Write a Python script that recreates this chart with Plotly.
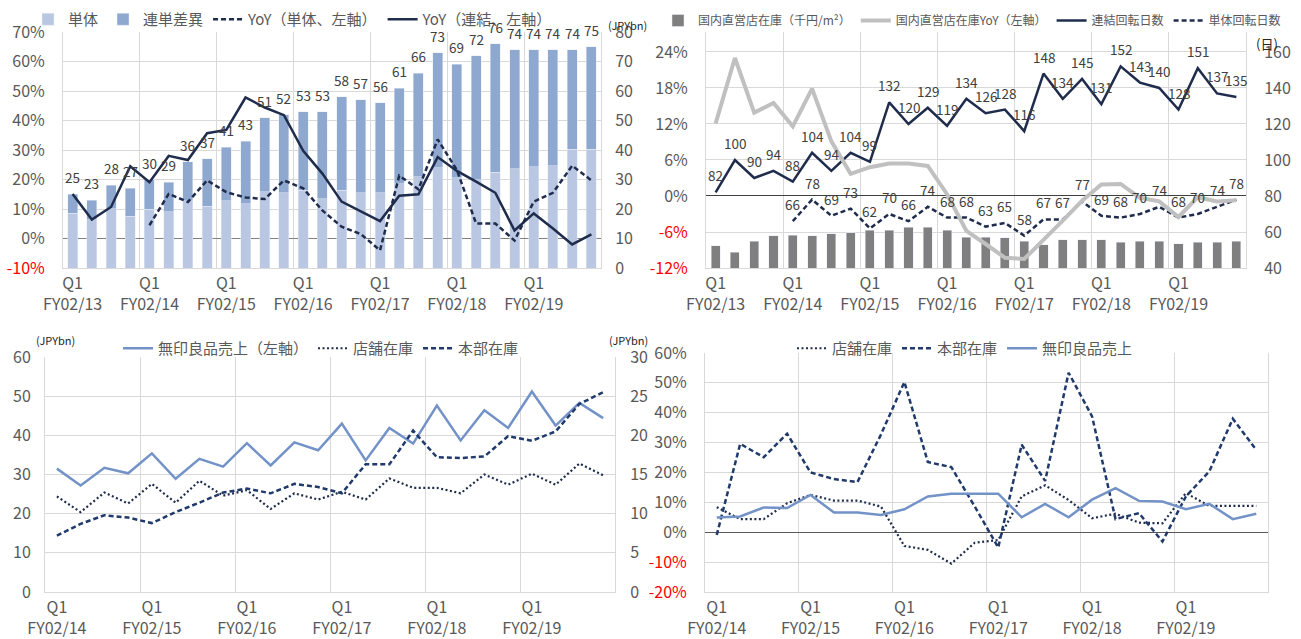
import plotly.graph_objects as go

W, H = 1301, 639

# ---------------- data ----------------
tick_text_a = ["Q1<br>FY02/13", "Q1<br>FY02/14", "Q1<br>FY02/15", "Q1<br>FY02/16",
               "Q1<br>FY02/17", "Q1<br>FY02/18", "Q1<br>FY02/19"]
tick_text_b = ["Q1<br>FY02/14", "Q1<br>FY02/15", "Q1<br>FY02/16",
               "Q1<br>FY02/17", "Q1<br>FY02/18", "Q1<br>FY02/19"]

# top-left: inventory (JPYbn) and YoY (%)
sales_total = [25, 23, 28, 27, 30, 29, 36, 37, 41, 43, 51, 52, 53, 53,
               58, 57, 56, 61, 66, 73, 69, 72, 76, 74, 74, 74, 74, 75]
sales_single = [18.6, 16.4, 20.1, 17.5, 20.0, 19.1, 22.8, 20.9, 22.8, 21.7, 25.9, 25.5, 26.4, 23.5,
                26.4, 25.5, 25.5, 28.5, 31.0, 34.0, 30.6, 30.0, 32.5, 33.6, 34.4, 34.6, 40.2, 40.2]
sales_gap = [round(t - s, 1) for t, s in zip(sales_total, sales_single)]
yoy_single = [None, None, None, None, 4.5, 15.1, 12.4, 19.7, 15.7, 13.9, 13.4, 19.7, 17.0, 9.5,
              4.0, 1.5, -4.0, 21.3, 16.7, 33.6, 23.2, 5.1, 5.1, -0.7, 12.5, 15.5, 24.7, 19.7]
yoy_consol = [15.1, 6.4, 10.7, 24.5, 19.1, 28.0, 26.6, 35.7, 36.8, 47.8, 44.4, 41.8, 29.7, 22.0,
              12.5, 9.2, 5.9, 14.5, 15.0, 27.6, 22.9, 19.3, 15.5, 2.7, 8.5, 3.4, -2.0, 1.4]

# top-right: store inventory per m2, YoY, turnover days
inv_per_m2 = [52.3, 48.8, 54.8, 57.8, 58.3, 57.8, 58.9, 59.6, 61.1, 61.1, 62.7, 62.7, 61.1, 57.2,
              57.2, 56.7, 54.8, 53.0, 55.6, 55.6, 55.6, 54.3, 54.8, 54.8, 53.6, 54.3, 54.3, 54.8]
inv_yoy = [12.1, 23.0, 13.9, 15.5, 11.6, 17.9, 9.1, 3.7, 4.8, 5.4, 5.4, 5.0, 0.3, -5.8,
           -8.0, -10.3, -10.5, -7.4, -4.1, -0.8, 1.9, 2.0, -0.3, -0.9, -3.5, -0.2, -0.9, -0.7]
days_consol = [82, 100, 90, 94, 88, 104, 94, 104, 99, 132, 120, 129, 119, 134,
               126, 128, 116, 148, 134, 145, 131, 152, 143, 140, 128, 151, 137, 135]
days_single = [None, None, None, None, 66, 78, 69, 73, 62, 70, 66, 74, 68, 68,
               63, 65, 58, 67, 67, 77, 69, 68, 70, 74, 68, 70, 74, 78]

# bottom-left: sales (left) and inventories (right), JPYbn
muji_sales = [31.5, 27.2, 31.7, 30.3, 35.4, 28.9, 34.0, 32.0, 38.0, 32.3, 38.2, 36.2,
              43.0, 33.6, 41.9, 37.9, 47.6, 38.7, 46.4, 41.9, 51.2, 42.5, 48.3, 44.4]
store_inv = [12.2, 10.2, 12.7, 11.3, 13.8, 11.4, 14.2, 12.3, 13.0, 10.6, 12.6, 11.8,
             12.8, 11.8, 14.5, 13.3, 13.3, 12.6, 15.0, 13.7, 15.1, 13.7, 16.4, 14.9]
hq_inv = [7.2, 8.7, 9.8, 9.5, 8.8, 10.2, 11.4, 12.7, 13.2, 12.6, 13.8, 13.4,
          12.6, 16.3, 16.3, 20.6, 17.2, 17.1, 17.3, 19.9, 19.3, 20.5, 24.0, 25.5]

# bottom-right: YoY (%)
store_inv_yoy = [8.4, 4.4, 4.4, 9.7, 12.5, 10.6, 10.6, 8.6, -4.6, -5.9, -10.5, -3.5,
                 -2.6, 12.0, 15.7, 10.8, 4.7, 6.2, 3.2, 3.0, 13.1, 8.8, 8.8, 8.8]
hq_inv_yoy = [-0.9, 29.6, 25.1, 33.0, 20.0, 17.8, 16.8, 32.7, 50.3, 23.5, 21.8, 8.6,
              -5.1, 29.3, 17.2, 53.4, 38.8, 4.4, 6.4, -3.1, 12.0, 20.4, 38.0, 27.6]
muji_sales_yoy = [4.9, 5.3, 8.3, 8.1, 12.5, 6.6, 6.6, 5.8, 7.7, 12.0, 12.9, 12.9,
                  12.9, 5.0, 9.5, 5.0, 10.9, 14.8, 10.5, 10.3, 7.7, 9.5, 4.4, 6.2]

xa = list(range(len(sales_total)))
xb = list(range(len(muji_sales)))

# ---------------- styling ----------------
FONT = "Noto Sans CJK JP, Noto Sans, sans-serif"
GRID = "#d9d9d9"
TICK = "#595959"
NAVY = "#1f2c4c"
NAVY2 = "#203a6b"
LBLUE = "#7393c8"
RED = "#ff0000"
DASH = "5px,3px"
DOT = "2px,2.5px"


def px(p):
    return p / W


def py(p):
    return 1 - p / H


def pct_labels(vals):
    out = []
    for v in vals:
        t = f"{v}%"
        out.append(f'<span style="color:{RED}">{t}</span>' if v < 0 else t)
    return out


fig = go.Figure()

# ---- top-left ----
fig.add_trace(go.Bar(x=xa, y=sales_single, name="単体", marker_color="#b9c7e2",
                     width=0.52, xaxis="x", yaxis="y", legend="legend"))
fig.add_trace(go.Bar(x=xa, y=sales_gap, name="連単差異", marker_color="#8fa8d0",
                     width=0.52, xaxis="x", yaxis="y", legend="legend"))
fig.add_trace(go.Scatter(x=xa, y=yoy_single, name="YoY（単体、左軸）", mode="lines",
                         line=dict(color=NAVY, width=2.5, dash=DASH),
                         xaxis="x", yaxis="y2", legend="legend"))
fig.add_trace(go.Scatter(x=xa, y=yoy_consol, name="YoY（連結、左軸）", mode="lines",
                         line=dict(color=NAVY, width=2.5),
                         xaxis="x", yaxis="y2", legend="legend"))

# ---- top-right ----
fig.add_trace(go.Bar(x=xa, y=inv_per_m2, name="国内直営店在庫（千円/m²）", marker_color="#7f7f7f",
                     width=0.47, xaxis="x2", yaxis="y3", legend="legend2", legendrank=1))
fig.add_trace(go.Scatter(x=xa, y=days_consol, name="連結回転日数", mode="lines",
                         line=dict(color=NAVY, width=2.5),
                         xaxis="x2", yaxis="y3", legend="legend2", legendrank=3))
fig.add_trace(go.Scatter(x=xa, y=days_single, name="単体回転日数", mode="lines",
                         line=dict(color=NAVY, width=2.5, dash=DASH),
                         xaxis="x2", yaxis="y3", legend="legend2", legendrank=4))
fig.add_trace(go.Scatter(x=xa, y=inv_yoy, name="国内直営店在庫YoY（左軸）", mode="lines",
                         line=dict(color="#c0c0c0", width=4),
                         xaxis="x2", yaxis="y4", legend="legend2", legendrank=2))

# ---- bottom-left ----
fig.add_trace(go.Scatter(x=xb, y=muji_sales, name="無印良品売上（左軸）", mode="lines",
                         line=dict(color=LBLUE, width=2.5),
                         xaxis="x3", yaxis="y5", legend="legend3"))
fig.add_trace(go.Scatter(x=xb, y=store_inv, name="店舗在庫", mode="lines",
                         line=dict(color=NAVY, width=2.2, dash=DOT),
                         xaxis="x3", yaxis="y6", legend="legend3"))
fig.add_trace(go.Scatter(x=xb, y=hq_inv, name="本部在庫", mode="lines",
                         line=dict(color=NAVY2, width=2.5, dash=DASH),
                         xaxis="x3", yaxis="y6", legend="legend3"))

# ---- bottom-right ----
fig.add_trace(go.Scatter(x=xb, y=store_inv_yoy, name="店舗在庫", mode="lines",
                         line=dict(color=NAVY, width=2.2, dash=DOT),
                         xaxis="x4", yaxis="y7", legend="legend4"))
fig.add_trace(go.Scatter(x=xb, y=hq_inv_yoy, name="本部在庫", mode="lines",
                         line=dict(color=NAVY2, width=2.5, dash=DASH),
                         xaxis="x4", yaxis="y7", legend="legend4"))
fig.add_trace(go.Scatter(x=xb, y=muji_sales_yoy, name="無印良品売上", mode="lines",
                         line=dict(color=LBLUE, width=2.5),
                         xaxis="x4", yaxis="y7", legend="legend4"))

# ---------------- axes ----------------
def xax(dom, anchor, n, ticktext):
    return dict(domain=dom, anchor=anchor, range=[-0.5, n - 0.5], automargin=False,
                tickmode="array", tickvals=list(range(0, n, 4)), ticktext=ticktext,
                showgrid=False, zeroline=False, showline=True, linecolor=GRID,
                ticks="outside", ticklen=1, tickcolor="rgba(0,0,0,0)",
                tickfont=dict(size=16, color=TICK),
                minor=dict(tick0=3.5, dtick=4, showgrid=True, gridcolor=GRID, gridwidth=1, ticks=""))


def yfont():
    return dict(size=16, color=TICK)


top_dom = [py(268), py(32)]
fig.update_layout(
    xaxis=xax([px(63), px(601)], "y", len(xa), tick_text_a),
    yaxis=dict(domain=top_dom, anchor="x", side="right", range=[0, 80], dtick=10,
               automargin=False,
               showgrid=True, gridcolor=GRID, zeroline=False, showline=True, linecolor=GRID,
               mirror=True, ticks="outside", ticklen=10, tickcolor="rgba(0,0,0,0)",
               tickfont=yfont()),
    yaxis2=dict(overlaying="y", anchor="x", side="left", range=[-10, 70], automargin=False,
                tickmode="array", tickvals=list(range(-10, 71, 10)),
                ticktext=pct_labels(list(range(-10, 71, 10))),
                showgrid=False, zeroline=True, zerolinecolor="#808080", zerolinewidth=1,
                ticks="outside", ticklen=14, tickcolor="rgba(0,0,0,0)", tickfont=yfont()),

    xaxis2=xax([px(706), px(1246)], "y3", len(xa), tick_text_a),
    yaxis3=dict(domain=top_dom, anchor="x2", side="right", range=[40, 171.1], automargin=False,
                tickmode="array", tickvals=list(range(40, 161, 20)),
                showgrid=True, gridcolor=GRID, zeroline=False, showline=True, linecolor=GRID,
                mirror=True, ticks="outside", ticklen=14, tickcolor="rgba(0,0,0,0)",
                tickfont=yfont()),
    yaxis4=dict(overlaying="y3", anchor="x2", side="left", range=[-12, 27.33], automargin=False,
                tickmode="array", tickvals=list(range(-12, 25, 6)),
                ticktext=pct_labels(list(range(-12, 25, 6))),
                showgrid=False, zeroline=True, zerolinecolor="#404040", zerolinewidth=1,
                ticks="outside", ticklen=14, tickcolor="rgba(0,0,0,0)", tickfont=yfont()),

    xaxis3=xax([px(45), px(615)], "y5", len(xb), tick_text_b),
    yaxis5=dict(domain=[py(592), py(357)], anchor="x3", side="left", range=[0, 60], dtick=10,
                automargin=False,
                showgrid=True, gridcolor=GRID, zeroline=False, showline=True, linecolor=GRID,
                mirror=True, ticks="outside", ticklen=10, tickcolor="rgba(0,0,0,0)",
                tickfont=yfont()),
    yaxis6=dict(overlaying="y5", anchor="x3", side="right", range=[0, 30], dtick=5,
                automargin=False, showgrid=False, zeroline=False,
                ticks="outside", ticklen=11, tickcolor="rgba(0,0,0,0)", tickfont=yfont()),

    xaxis4=xax([px(705), px(1268)], "y7", len(xb), tick_text_b),
    yaxis7=dict(domain=[py(592), py(353)], anchor="x4", side="left", range=[-20, 60],
                automargin=False,
                tickmode="array", tickvals=list(range(-20, 61, 10)),
                ticktext=pct_labels(list(range(-20, 61, 10))),
                showgrid=True, gridcolor=GRID, zeroline=True, zerolinecolor="#595959",
                zerolinewidth=1, showline=True, linecolor=GRID, mirror=True,
                ticks="outside", ticklen=14, tickcolor="rgba(0,0,0,0)", tickfont=yfont()),
)

# ---------------- legends ----------------
def leg(x, y, size):
    return dict(orientation="h", x=x, y=y, xanchor="left", yanchor="top",
                font=dict(size=size, color=TICK, family=FONT), bgcolor="rgba(0,0,0,0)",
                tracegroupgap=0, itemwidth=30, traceorder="normal")


fig.update_layout(
    legend=leg(px(28), py(3), 15),
    legend2=leg(px(658), py(6), 12),
    legend3=leg(px(118), py(332), 15),
    legend4=leg(px(792), py(332), 15),
)

# ---------------- data labels ----------------
anns = []
for i, v in enumerate(sales_total):
    anns.append(dict(x=xa[i], y=v, xref="x", yref="y", text=str(v), showarrow=False,
                     yshift=17, font=dict(size=13.5, color="#404040")))
for i, v in enumerate(days_consol):
    anns.append(dict(x=xa[i], y=v, xref="x2", yref="y3", text=str(v), showarrow=False,
                     yshift=17, font=dict(size=13.5, color="#404040")))
for i, v in enumerate(days_single):
    if v is not None:
        anns.append(dict(x=xa[i], y=v, xref="x2", yref="y3", text=str(v), showarrow=False,
                         yshift=17, font=dict(size=13.5, color="#404040")))

# axis unit captions
unit = dict(xref="paper", yref="paper", showarrow=False, font=dict(size=11, color="#262626"))
anns.append(dict(unit, x=px(627), y=py(15), text="(JPYbn)"))
anns.append(dict(unit, x=px(1280), y=py(32), text="(日)", font=dict(size=13, color="#262626")))
anns.append(dict(unit, x=px(34), y=py(340), text="(JPYbn)"))
anns.append(dict(unit, x=px(628), y=py(340), text="(JPYbn)"))

fig.update_layout(
    annotations=anns,
    barmode="stack",
    width=W, height=H,
    margin=dict(l=0, r=0, t=0, b=0),
    paper_bgcolor="white", plot_bgcolor="white",
    font=dict(family=FONT, color=TICK),
    showlegend=True,
)

fig.write_html("out.html", config={"displayModeBar": False},
               post_script="document.body.style.margin='0px';")
